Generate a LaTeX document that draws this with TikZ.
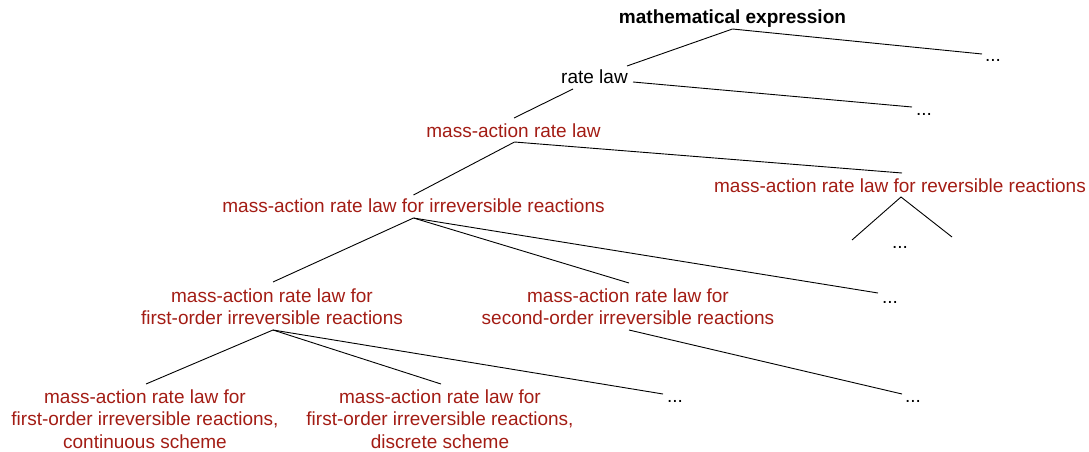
\documentclass[tikz,border=0pt]{standalone}
\usepackage{fontspec}
\setmainfont{Liberation Sans}
\definecolor{termred}{RGB}{163,28,20}
\begin{document}
\begin{tikzpicture}[x=1pt,y=-1pt,
  every node/.style={inner sep=0pt, anchor=base, font=\fontsize{19}{22}\selectfont},
  term/.style={text=termred, align=center},
  plain/.style={text=black},
  conn/.style={line width=0.9pt, black}]
\useasboundingbox (0,0) rectangle (1089,452);
% nodes
\node[plain, font=\fontsize{19}{22}\selectfont\bfseries] (me) at (732.5,24) {mathematical expression};
\node[plain] (rl) at (594.5,84) {rate law};
\node[plain] (d1) at (993,62) {...};
\node[plain] (d2) at (924,115) {...};
\node[term] (ma) at (513.5,137) {mass-action rate law};
\node[term] (irr) at (413.5,212) {mass-action rate law for irreversible reactions};
\node[term] (rev) at (900,192) {mass-action rate law for reversible reactions};
\node[plain] (d6) at (900,248) {...};
\node[term] (fo) at (272,324) {mass-action rate law for\\first-order irreversible reactions};
\node[term] (so) at (628,324) {mass-action rate law for\\second-order irreversible reactions};
\node[plain] (d3) at (890,303) {...};
\node[term, font=\fontsize{19}{22.5}\selectfont] (cont) at (145,448) {mass-action rate law for\\first-order irreversible reactions,\\continuous scheme};
\node[term, font=\fontsize{19}{22.5}\selectfont] (disc) at (440,448) {mass-action rate law for\\first-order irreversible reactions,\\discrete scheme};
\node[plain] (d4) at (675,402) {...};
\node[plain] (d5) at (913,402) {...};
\coordinate (revl) at (852,240);
\coordinate (revr) at (952,237);
% connectors
\draw[conn] ([yshift=-5pt]me.base) -- ([xshift=32.5pt,yshift=18pt]rl.base);
\draw[conn] ([yshift=-5pt]me.base) -- ([xshift=-11pt,yshift=8pt]d1.base);
\draw[conn] ([xshift=38.5pt,yshift=2pt]rl.base) -- ([xshift=-12pt,yshift=8pt]d2.base);
\draw[conn] ([xshift=-21.5pt,yshift=-5pt]rl.base) -- ([xshift=0.5pt,yshift=19pt]ma.base);
\draw[conn] ([xshift=1pt,yshift=-5pt]ma.base) -- ([yshift=17pt]irr.base);
\draw[conn] ([xshift=1pt,yshift=-5pt]ma.base) -- ([xshift=2pt,yshift=19pt]rev.base);
\draw[conn] (revl) -- ([xshift=1pt,yshift=-5pt]rev.base) -- (revr);
\draw[conn] ([yshift=-6pt]irr.base) -- ([xshift=1pt,yshift=42pt]fo.base);
\draw[conn] ([yshift=-6pt]irr.base) -- ([xshift=1pt,yshift=41pt]so.base);
\draw[conn] ([yshift=-6pt]irr.base) -- ([xshift=-12pt,yshift=10pt]d3.base);
\draw[conn] ([xshift=1pt,yshift=-6pt]fo.base) -- ([xshift=1pt,yshift=64pt]cont.base);
\draw[conn] ([xshift=1pt,yshift=-6pt]fo.base) -- ([xshift=1pt,yshift=64pt]disc.base);
\draw[conn] ([xshift=1pt,yshift=-6pt]fo.base) -- ([xshift=-12pt,yshift=8pt]d4.base);
\draw[conn] ([xshift=1pt,yshift=-6pt]so.base) -- ([xshift=-11pt,yshift=8pt]d5.base);
\end{tikzpicture}
\end{document}
